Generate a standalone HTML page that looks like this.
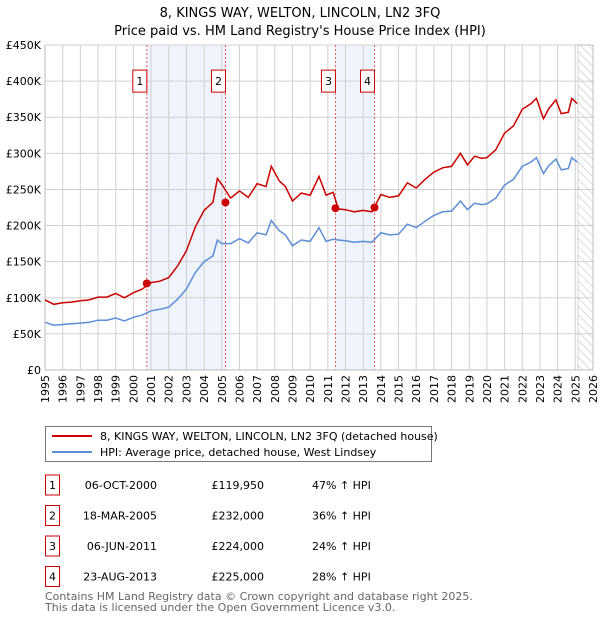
<!DOCTYPE html>
<html><head><meta charset="utf-8"><style>
body{margin:0;background:#fff;}
svg text{font-family:"DejaVu Sans","Liberation Sans",sans-serif;}
</style></head><body>
<svg id="chart" width="600" height="620" viewBox="0 0 600 620" xmlns="http://www.w3.org/2000/svg">
<text x="300" y="17" text-anchor="middle" font-size="13">8, KINGS WAY, WELTON, LINCOLN, LN2 3FQ</text>
<text x="300" y="35" text-anchor="middle" font-size="13">Price paid vs. HM Land Registry's House Price Index (HPI)</text>
<g id="plot"></g>
<g>
<rect x="45.5" y="426.5" width="386" height="35" fill="#fff" stroke="#777"/>
<line x1="52" y1="436" x2="92" y2="436" stroke="#cc0000" stroke-width="2"/>
<text x="100" y="440" font-size="11">8, KINGS WAY, WELTON, LINCOLN, LN2 3FQ (detached house)</text>
<line x1="52" y1="452" x2="92" y2="452" stroke="#5b8ed6" stroke-width="2"/>
<text x="100" y="456" font-size="11">HPI: Average price, detached house, West Lindsey</text>
</g>
<g id="table"></g>
<text x="45" y="600" font-size="11" fill="#666">Contains HM Land Registry data © Crown copyright and database right 2025.</text>
<text x="45" y="611" font-size="11" fill="#666">This data is licensed under the Open Government Licence v3.0.</text>
</svg>
<script>
const years=[1995,1996,1997,1998,1999,2000,2001,2002,2003,2004,2005,2006,2007,2008,2009,2010,2011,2012,2013,2014,2015,2016,2017,2018,2019,2020,2021,2022,2023,2024,2025,2026];
const yTicks=[0,50,100,150,200,250,300,350,400,450];
const yTickLabels=["£0","£50K","£100K","£150K","£200K","£250K","£300K","£350K","£400K","£450K"];
const dates=[1995,1995.5,1996,1996.5,1997,1997.5,1998,1998.5,1999,1999.5,2000,2000.5,2001,2001.5,2002,2002.5,2003,2003.5,2004,2004.5,2004.75,2005,2005.5,2006,2006.5,2007,2007.5,2007.8,2008.25,2008.6,2009,2009.5,2010,2010.5,2010.9,2011.3,2011.6,2012,2012.5,2013,2013.5,2014,2014.5,2015,2015.5,2016,2016.5,2017,2017.5,2018,2018.5,2018.9,2019.3,2019.7,2020,2020.5,2021,2021.5,2022,2022.5,2022.8,2023.2,2023.5,2023.9,2024.2,2024.6,2024.8,2025.1];
const hpi=[66,62,63,64,65,66,69,69,72,68,73,76,82,84,87,98,112,135,150,158,180,175,175,182,176,190,187,207,193,187,172,180,178,197,178,181,180,179,177,178,177,190,187,188,202,197,206,214,219,220,234,222,231,229,230,238,256,264,282,288,294,272,283,292,277,279,294,288];
const price=[97,91,93,94,96,97,101,101,106,100,107,112,121,123,128,144,165,198,221,232,265,257,238,248,239,258,254,282,262,254,234,245,242,268,242,246,223,222,219,221,219,243,239,241,259,252,264,274,280,282,300,284,296,293,294,305,328,338,361,369,376,348,362,374,355,357,376,369];
const saleLabels=["1","2","3","4"];
const saleDates=[2000.76,2005.21,2011.43,2013.64];
const salePrices=[119.95,232,224,225];
const saleDateText=["06-OCT-2000","18-MAR-2005","06-JUN-2011","23-AUG-2013"];
const salePriceText=["£119,950","£232,000","£224,000","£225,000"];
const salePctText=["47% ↑ HPI","36% ↑ HPI","24% ↑ HPI","28% ↑ HPI"];
const NS="http://www.w3.org/2000/svg";
const X0=45,X1=593,Y0=370,Y1=45;
const xs=d=>X0+(d-1995)/(2026-1995)*(X1-X0);
const ys=v=>Y0-v/450*(Y0-Y1);
const plot=document.getElementById('plot');
function mk(tag,attrs,parent){const e=document.createElementNS(NS,tag);for(const k in attrs)e.setAttribute(k,attrs[k]);(parent||plot).appendChild(e);return e;}
for(let i=0;i<saleDates.length;i+=2){
 const r=mk('rect',{x:xs(saleDates[i]),y:Y1,width:xs(saleDates[i+1])-xs(saleDates[i]),height:Y0-Y1,fill:'#eef3fc'});
 
 
}
years.forEach(y=>{
 const l=mk('line',{x1:xs(y),x2:xs(y),y1:Y1,y2:Y0,stroke:'#d0d0d0','stroke-width':1});
 
 
 const tx=xs(y)+4, ty=Y0+5;
 const t=mk('text',{x:tx,y:ty,'text-anchor':'end','font-size':11,transform:'rotate(-90 '+tx+' '+ty+')'});
 
 
 t.textContent=y;
});
yTicks.forEach((v,i)=>{
 const l=mk('line',{x1:X0,x2:X1,y1:ys(v),y2:ys(v),stroke:'#d0d0d0','stroke-width':1});
 
 
 const t=mk('text',{x:X0-4,y:ys(v)+4,'text-anchor':'end','font-size':11});
 
 
 t.textContent=yTickLabels[i];
});
const defs=mk('defs',{});
const pat=mk('pattern',{id:'hatch',width:6,height:6,patternUnits:'userSpaceOnUse',patternTransform:'rotate(-45)'},defs);
mk('line',{x1:0,y1:0,x2:0,y2:6,stroke:'#bbb','stroke-width':1},pat);
const hx=xs(2025.15);
const hr=mk('rect',{x:hx,y:Y1,width:X1-hx,height:Y0-Y1,fill:'url(#hatch)',stroke:'#aaa','stroke-width':0.5});


saleDates.forEach((d,i)=>{
 const l=mk('line',{x1:xs(d),x2:xs(d),y1:Y1,y2:Y0,stroke:'#e06060','stroke-width':1,'stroke-dasharray':'2,2'});
 
 
 const b=mk('rect',{x:xs(d)-14,y:ys(400)-11,width:14,height:22,fill:'#fff',stroke:'#cc0000'});
 
 
 const t=mk('text',{x:xs(d)-7,y:ys(400)+4,'text-anchor':'middle','font-size':11});
 
 
 t.textContent=saleLabels[i];
});
mk('line',{x1:X0,x2:X0,y1:Y1,y2:Y0,stroke:'#bbb'});
mk('line',{x1:X0,x2:X1,y1:Y0,y2:Y0,stroke:'#bbb'});
function path(vals){return vals.map((v,i)=>(i?'L':'M')+xs(dates[i]).toFixed(1)+','+ys(v).toFixed(1)).join('');}
const hp=mk('path',{d:path(hpi),fill:'none',stroke:'#5b8ed6','stroke-width':1.5});


const pp=mk('path',{d:path(price),fill:'none',stroke:'#cc0000','stroke-width':1.5});


saleDates.forEach((d,i)=>{
 const c=mk('circle',{cx:xs(d),cy:ys(salePrices[i]),r:4,fill:'#cc0000'});
 
 
});
const tb=document.getElementById('table');
saleLabels.forEach((s,i)=>{
 const y=485+i*30.5;
 const b=mk('rect',{x:45.5,y:y-10,width:14,height:20,fill:'#fff',stroke:'#cc0000'},tb);
 
 
 const t0=mk('text',{x:52.5,y:y+4,'text-anchor':'middle','font-size':11},tb);
 
 
 t0.textContent=s;
 const t1=mk('text',{x:157,y:y+4,'text-anchor':'end','font-size':11},tb);
 
 
 t1.textContent=saleDateText[i];
 const t2=mk('text',{x:264,y:y+4,'text-anchor':'end','font-size':11},tb);
 
 
 t2.textContent=salePriceText[i];
 const t3=mk('text',{x:312,y:y+4,'font-size':11},tb);
 
 
 t3.textContent=salePctText[i];
});
</script>
</body></html>
